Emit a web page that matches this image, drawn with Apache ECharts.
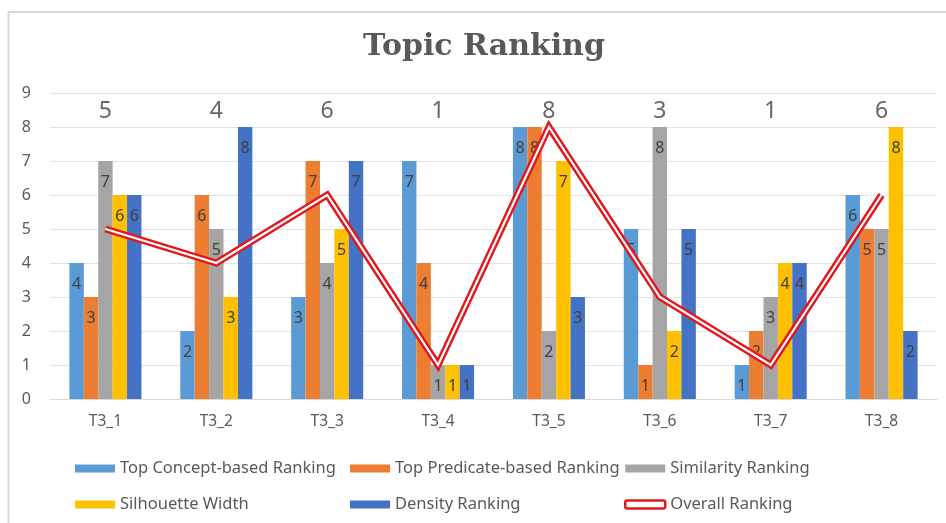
<!DOCTYPE html>
<html>
<head>
<meta charset="utf-8">
<script src="https://cdn.jsdelivr.net/npm/echarts@6/dist/echarts.min.js"></script>
<style>
  html, body { margin: 0; padding: 0; background: #fff; }
  #chart { width: 946px; height: 523px; }
</style>
</head>
<body>
<div id="chart"></div>
<script>
// Topic categories and per-criterion rankings
const topics = ['T3_1', 'T3_2', 'T3_3', 'T3_4', 'T3_5', 'T3_6', 'T3_7', 'T3_8'];
const conceptRanking   = [4, 2, 3, 7, 8, 5, 1, 6];
const predicateRanking = [3, 6, 7, 4, 8, 1, 2, 5];
const similarityRanking = [7, 5, 4, 1, 2, 8, 3, 5];
const silhouetteWidth  = [6, 3, 5, 1, 7, 2, 4, 8];
const densityRanking   = [6, 8, 7, 1, 3, 5, 4, 2];
const overallRanking   = [5, 4, 6, 1, 8, 3, 1, 6];
const yTicks = [0, 1, 2, 3, 4, 5, 6, 7, 8, 9];

const FONT = 'Noto Sans';
const chart = echarts.init(document.getElementById('chart'));

const barSeries = [
  { name: 'Top Concept-based Ranking', data: conceptRanking, color: '#5B9BD5' },
  { name: 'Top Predicate-based Ranking', data: predicateRanking, color: '#ED7D31' },
  { name: 'Similarity Ranking', data: similarityRanking, color: '#A5A5A5' },
  { name: 'Silhouette Width', data: silhouetteWidth, color: '#FFC000' },
  { name: 'Density Ranking', data: densityRanking, color: '#4472C4' }
].map(s => ({
  type: 'bar',
  name: s.name,
  data: s.data,
  itemStyle: { color: s.color },
  barGap: '0%',
  barCategoryGap: '35%',
  label: {
    show: true,
    position: 'insideTop',
    distance: 13,
    color: '#404040',
    fontFamily: FONT,
    fontSize: 16
  },
  emphasis: { disabled: true },
  z: 2
}));

const legendText = { color: '#595959', fontFamily: FONT, fontSize: 16.5 };
const legendBase = {
  orient: 'vertical',
  top: 460,
  itemWidth: 40,
  itemHeight: 8,
  itemGap: 19,
  padding: 0,
  selectedMode: false,
  icon: 'rect',
  textStyle: legendText
};

chart.setOption({
  animation: false,
  backgroundColor: '#ffffff',
  graphic: [
    {
      type: 'rect',
      shape: { x: 8.5, y: 12, width: 1000, height: 1000 },
      style: { fill: 'none', stroke: '#d9d9d9', lineWidth: 2 },
      silent: true
    },
    {
      type: 'text',
      x: 484, y: 47,
      style: {
        text: 'Topic Ranking',
        fontFamily: 'DejaVu Serif',
        fontWeight: 'bold',
        fontSize: 30,
        fill: '#595959',
        textAlign: 'center',
        textVerticalAlign: 'middle'
      },
      silent: true
    }
  ],
  legend: [
    Object.assign({}, legendBase, { left: 75, data: ['Top Concept-based Ranking', 'Silhouette Width'] }),
    Object.assign({}, legendBase, { left: 350, data: ['Top Predicate-based Ranking', 'Density Ranking'] }),
    Object.assign({}, legendBase, {
      left: 624,
      data: [
        'Similarity Ranking',
        { name: 'Overall Ranking', icon: 'roundRect',
          itemStyle: { color: '#ffffff', borderColor: '#e3171e', borderWidth: 2.5 } }
      ]
    })
  ],
  grid: { left: 50, right: 9, top: 93, bottom: 124 },
  xAxis: {
    type: 'category',
    data: topics,
    axisTick: { show: false },
    axisLine: { lineStyle: { color: '#d9d9d9', width: 1 } },
    axisLabel: { color: '#595959', fontFamily: FONT, fontSize: 15.5, margin: 15 }
  },
  yAxis: {
    type: 'value',
    min: yTicks[0],
    max: yTicks[yTicks.length - 1],
    interval: 1,
    axisLine: { show: false },
    axisTick: { show: false },
    splitLine: { lineStyle: { color: '#e3e3e3', width: 1 } },
    axisLabel: { color: '#595959', fontFamily: FONT, fontSize: 16, margin: 19 }
  },
  series: barSeries.concat([
    {
      type: 'line',
      name: 'Overall Ranking',
      data: overallRanking,
      showSymbol: false,
      symbol: 'none',
      lineStyle: { color: '#e3171e', width: 7, join: 'miter' },
      itemStyle: { color: '#ffffff', borderColor: '#e3171e', borderWidth: 2.5 },
      emphasis: { disabled: true },
      z: 5
    },
    {
      type: 'line',
      name: 'Overall Ranking core',
      data: overallRanking,
      showSymbol: false,
      symbol: 'none',
      lineStyle: { color: '#ffffff', width: 2.2, join: 'miter' },
      emphasis: { disabled: true },
      silent: true,
      z: 6
    },
    {
      // overall rank printed above each topic group
      type: 'scatter',
      name: 'Overall Ranking label',
      data: overallRanking.map((v, i) => [i, 8.47]),
      symbolSize: 0,
      silent: true,
      label: {
        show: true,
        position: 'inside',
        formatter: p => String(overallRanking[p.dataIndex]),
        color: '#404040',
        fontFamily: FONT,
        fontSize: 23
      },
      z: 7
    }
  ])
});
</script>
</body>
</html>
